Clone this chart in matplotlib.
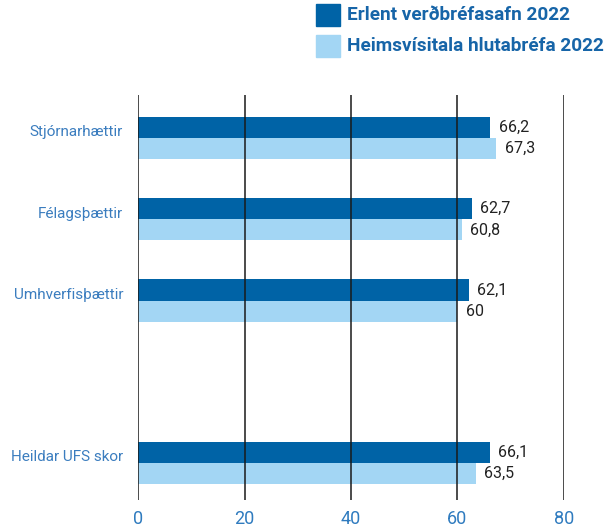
import matplotlib
matplotlib.use("Agg")
import matplotlib.pyplot as plt
from matplotlib.patches import Rectangle
from matplotlib.transforms import blended_transform_factory, offset_copy

plt.rcParams['font.family'] = ['Roboto', 'DejaVu Sans']

categories = ["Stjórnarhættir", "Félagsþættir", "Umhverfisþættir", "Heildar UFS skor"]
positions = [0, 1, 2, 4]
erlent = [66.2, 62.7, 62.1, 66.1]
heims = [67.3, 60.8, 60.0, 63.5]
erlent_labels = ["66,2", "62,7", "62,1", "66,1"]
heims_labels = ["67,3", "60,8", "60", "63,5"]
series_names = ["Erlent verðbréfasafn 2022", "Heimsvísitala hlutabréfa 2022"]
xticks = [0, 20, 40, 60, 80]

dark = "#0063a6"
light = "#a3d6f4"
label_blue = "#3b7dbf"
legend_blue = "#1765a8"
value_color = "#222222"

fig = plt.figure(figsize=(6.14, 5.31), dpi=100)
ax = fig.add_axes([138.3 / 614, 1 - 500 / 531, 425.4 / 614, (500 - 95) / 531])

bh = 0.26
ax.barh([p - bh / 2 for p in positions], erlent, height=bh, color=dark, zorder=1)
ax.barh([p + bh / 2 for p in positions], heims, height=bh, color=light, zorder=1)

ax.set_xlim(0, 80)
ax.set_ylim(4.455, -0.53)

# vertical reference lines drawn above the bars
for t in xticks:
    ax.axvline(t, color="#1a1a1a", lw=1.1, zorder=3)

for s in ax.spines.values():
    s.set_visible(False)
ax.set_yticks([])
ax.set_xticks(xticks)
ax.set_xticklabels([str(t) for t in xticks], fontsize=13, color="#2f7bbf")
ax.tick_params(axis="x", length=0, pad=7)

# value labels at bar ends
for p, v, s in zip(positions, erlent, erlent_labels):
    tr = offset_copy(ax.transData, fig=fig, x=6, y=0, units="points")
    ax.text(v, p - bh / 2, s, transform=tr, ha="left", va="center",
            fontsize=11.5, color=value_color, zorder=4)
for p, v, s in zip(positions, heims, heims_labels):
    tr = offset_copy(ax.transData, fig=fig, x=6, y=0, units="points")
    ax.text(v, p + bh / 2, s, transform=tr, ha="left", va="center",
            fontsize=11.5, color=value_color, zorder=4)

# category labels left of the axis
trans = blended_transform_factory(ax.transAxes, ax.transData)
trans = offset_copy(trans, fig=fig, x=-11, y=0, units="points")
for p, c in zip(positions, categories):
    ax.text(0, p - 0.07, c, transform=trans, ha="right", va="center",
            fontsize=11, color=label_blue)

# legend
for i, (name, col) in enumerate(zip(series_names, [dark, light])):
    y0 = 4 + i * 31
    fig.patches.append(Rectangle((316 / 614, 1 - (y0 + 22) / 531), 24 / 614, 22 / 531,
                                 transform=fig.transFigure, color=col))
    fig.text(347 / 614, 1 - (y0 + 11) / 531, name, ha="left", va="center",
             fontsize=13.7, fontweight="bold", color=legend_blue)

fig.savefig("out.png", dpi=100)
